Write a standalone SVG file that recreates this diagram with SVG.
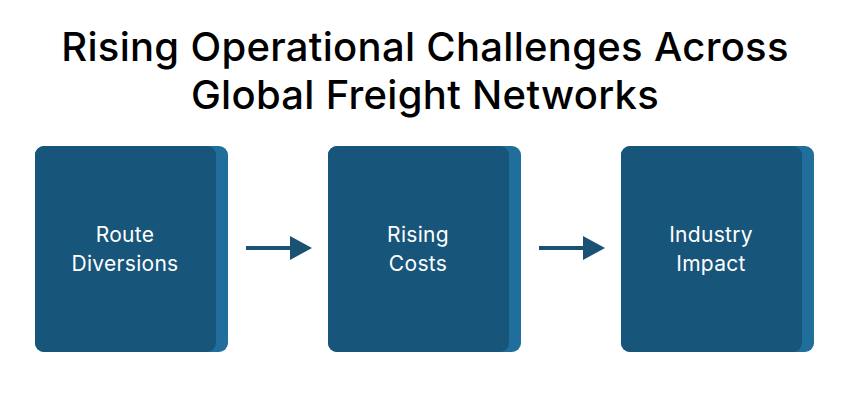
<svg xmlns="http://www.w3.org/2000/svg" width="850" height="401" viewBox="0 0 850 401">
<style>
.title{font-family:Inter,"Noto Sans",sans-serif;font-size:40px;font-weight:500;fill:#000;text-anchor:middle;letter-spacing:0.3px}
.lbl{font-family:Inter,"Noto Sans",sans-serif;font-size:21px;font-weight:400;fill:#fff;text-anchor:middle;letter-spacing:0.3px}
.back{fill:#1f6e9b}
.front{fill:#18557a}
.arr{stroke:#1a5276;stroke-width:4;fill:none}
.head{fill:#1a5276}
</style>
<rect width="850" height="401" fill="#fff"/>
<g id="title">
<text class="title" x="425" y="61">Rising Operational Challenges Across</text>
<text class="title" x="425" y="109">Global Freight Networks</text>
</g>
<g id="node1">
<rect class="back" x="35" y="146" width="193" height="206" rx="9"/>
<rect class="front" x="35" y="146" width="181" height="206" rx="9"/>
<text class="lbl" x="125" y="242">Route</text>
<text class="lbl" x="125" y="271">Diversions</text>
</g>
<g id="node2">
<rect class="back" x="328" y="146" width="193" height="206" rx="9"/>
<rect class="front" x="328" y="146" width="181" height="206" rx="9"/>
<text class="lbl" x="418" y="242">Rising</text>
<text class="lbl" x="418" y="271">Costs</text>
</g>
<g id="node3">
<rect class="back" x="621" y="146" width="193" height="206" rx="9"/>
<rect class="front" x="621" y="146" width="181" height="206" rx="9"/>
<text class="lbl" x="711" y="242">Industry</text>
<text class="lbl" x="711" y="271">Impact</text>
</g>
<g id="connectors">
<line class="arr" x1="246" y1="248" x2="292" y2="248"/>
<polygon class="head" points="290,236 312,248 290,260"/>
<line class="arr" x1="539" y1="248" x2="585" y2="248"/>
<polygon class="head" points="583,236 605,248 583,260"/>
</g>
</svg>
